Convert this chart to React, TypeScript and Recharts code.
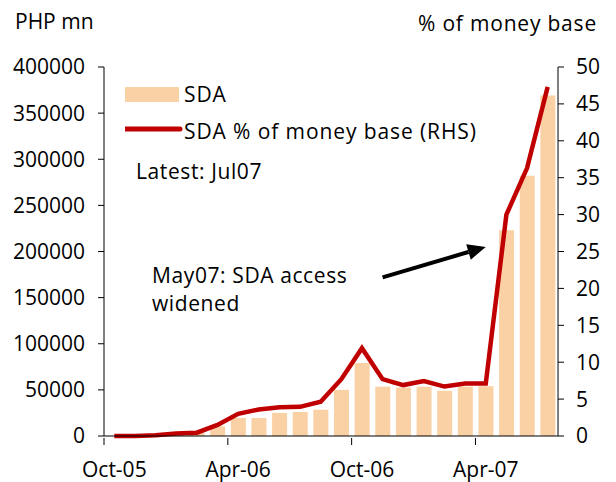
import {
  ComposedChart, Bar, Line, XAxis, YAxis, Legend, ReferenceLine
} from "recharts";

const months = [
  "Oct-05", "Nov-05", "Dec-05", "Jan-06", "Feb-06", "Mar-06", "Apr-06", "May-06",
  "Jun-06", "Jul-06", "Aug-06", "Sep-06", "Oct-06", "Nov-06", "Dec-06", "Jan-07",
  "Feb-07", "Mar-07", "Apr-07", "May-07", "Jun-07", "Jul-07",
];

// SDA balance, PHP mn
const sdaValues = [
  0, 0, 500, 2500, 3500, 10500, 19500, 19500, 25000, 26000, 28500, 50000,
  79000, 53500, 52500, 53500, 49000, 53500, 54000, 223000, 282000, 369000,
];

// SDA as % of money base
const sdaPct = [
  0, 0, 0.1, 0.35, 0.45, 1.5, 3.0, 3.6, 3.9, 3.95, 4.65, 7.7,
  11.9, 7.7, 6.9, 7.45, 6.7, 7.1, 7.1, 30.0, 36.3, 47.3,
];

const leftTicks = [0, 50000, 100000, 150000, 200000, 250000, 300000, 350000, 400000];
const rightTicks = [0, 5, 10, 15, 20, 25, 30, 35, 40, 45, 50];

const data = months.map((m, i) => ({ m, sda: sdaValues[i], pct: sdaPct[i] }));

const FONT = "'Open Sans', sans-serif";
const BAR = "#FAD0A5";
const RED = "#C00000";

const W = 616;
const H = 482;
const LEFT_W = 104;
const RIGHT_W = 58;
const HALF_BAND = (W - LEFT_W - RIGHT_W) / months.length / 2;

// labels sit under the month, tick marks on the month boundary
const XTick = ({ x, y, payload }: any) => (
  <g>
    <line x1={x - HALF_BAND} x2={x - HALF_BAND} y1={y} y2={y + 7} stroke="#000" />
    <text x={x} y={y + 39} textAnchor="middle" fontSize={21} fontFamily={FONT} fill="#000">
      {payload.value}
    </text>
  </g>
);

const LegendBox = () => (
  <svg width={420} height={90} style={{ display: "block" }}>
    <g fontSize={21} fontFamily={FONT} fill="#000" letterSpacing={0.9}>
      <rect x={0} y={10} width={54} height={15} fill={BAR} />
      <text x={59} y={25}>SDA</text>
      <line x1={0} x2={55} y1={52} y2={52} stroke={RED} strokeWidth={5} strokeLinecap="round" />
      <text x={59} y={62}>SDA % of money base (RHS)</text>
    </g>
  </svg>
);

const Arrow = (props: any) => {
  const { x1, y1, x2, y2 } = props;
  const ang = Math.atan2(y2 - y1, x2 - x1);
  const len = 18;
  const wid = 8;
  const bx = x2 - len * Math.cos(ang);
  const by = y2 - len * Math.sin(ang);
  const px = -Math.sin(ang) * wid;
  const py = Math.cos(ang) * wid;
  return (
    <g>
      <line x1={x1} y1={y1} x2={bx} y2={by} stroke="#000" strokeWidth={4} />
      <polygon points={`${x2},${y2} ${bx + px},${by + py} ${bx - px},${by - py}`} fill="#000" />
    </g>
  );
};

export default function App() {
  const tickStyle = { fontSize: 21, fontFamily: FONT, fill: "#000" };
  return (
    <div style={{ position: "absolute", left: 0, top: 0, width: W, height: H, background: "#fff" }}>
      <ComposedChart width={W} height={H} data={data} margin={{ top: 67, right: 0, left: 0, bottom: 0 }}>
        <XAxis
          dataKey="m"
          interval={5}
          height={46}
          tickLine={false}
          tickSize={0}
          tick={<XTick />}
          axisLine={{ stroke: "#000" }}
        />
        <YAxis
          yAxisId="left"
          width={LEFT_W}
          domain={[0, 400000]}
          ticks={leftTicks}
          tickSize={6}
          tickMargin={13}
          tick={tickStyle}
          axisLine={{ stroke: "#000" }}
          tickLine={{ stroke: "#000" }}
        />
        <YAxis
          yAxisId="right"
          orientation="right"
          width={RIGHT_W}
          domain={[0, 50]}
          ticks={rightTicks}
          tickSize={6}
          tickMargin={12}
          tick={tickStyle}
          axisLine={{ stroke: "#000" }}
          tickLine={{ stroke: "#000" }}
        />
        <Legend
          layout="vertical"
          align="center"
          verticalAlign="middle"
          content={() => <LegendBox />}
          wrapperStyle={{ left: 125, top: 77, width: 420, height: 90 }}
        />
        <Bar yAxisId="left" dataKey="sda" name="SDA" fill={BAR} barSize={15} isAnimationActive={false} />
        <Line
          yAxisId="right"
          dataKey="pct"
          name="SDA % of money base (RHS)"
          stroke={RED}
          strokeWidth={4.5}
          dot={false}
          activeDot={false}
          type="linear"
          isAnimationActive={false}
        />
        <ReferenceLine
          yAxisId="left"
          segment={[{ x: "Nov-06", y: 172000 }, { x: "Apr-07", y: 205000 }]}
          shape={<Arrow />}
        />
      </ComposedChart>
      <svg width={W} height={H} style={{ position: "absolute", left: 0, top: 0, pointerEvents: "none" }}>
        <g fontFamily={FONT} fontSize={21} fill="#000">
          <text x={15} y={29}>PHP mn</text>
          <text x={597} y={31} textAnchor="end" letterSpacing={0.8}>% of money base</text>
          <g letterSpacing={0.6}>
            <text x={136} y={179}>Latest: Jul07</text>
            <text x={152} y={283}>May07: SDA access</text>
            <text x={152} y={311}>widened</text>
          </g>
        </g>
      </svg>
    </div>
  );
}
